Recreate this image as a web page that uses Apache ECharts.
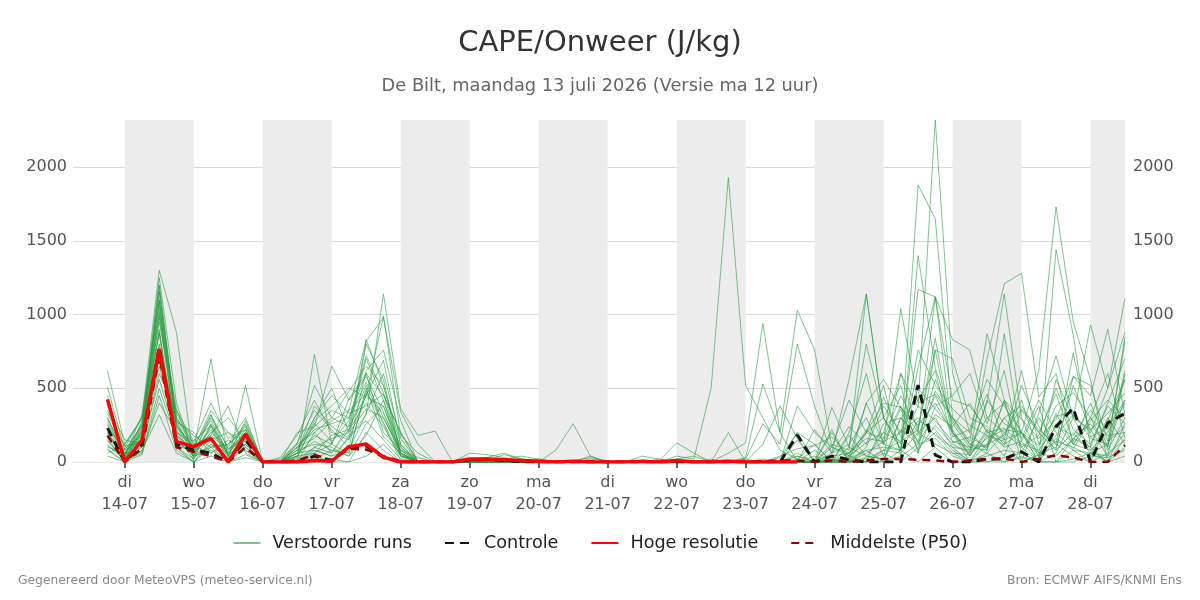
<!DOCTYPE html>
<html>
<head>
<meta charset="utf-8">
<title>CAPE/Onweer</title>
<script src="https://cdn.jsdelivr.net/npm/echarts@6/dist/echarts.min.js"></script>
<style>
html, body { margin: 0; padding: 0; background: #fff; }
#chart { width: 1200px; height: 600px; }
</style>
</head>
<body>
<div id="chart"></div>
<script>
// tijdstappen: elke 6 uur vanaf ma 13-07 18:00, as begint om 06:00
var startTime = new Date(2026, 6, 13, 18, 0, 0).getTime();
var asStart = new Date(2026, 6, 13, 6, 0, 0).getTime();
var stepCount = 60;
var dagNamen = ['zo', 'ma', 'di', 'wo', 'do', 'vr', 'za'];

// Hoge resolutie (stopt na ~10 dagen)
var hoogRes = [425, 0, 149, 766, 138, 104, 160, 0, 188, 0,
	0, 0, 10, 5, 104, 122, 33, 0, 0, 0,
	0, 20, 20, 15, 10, 5, 0, 5, 0, 0,
	0, 5, 0, 10, 0, 0, 5, 0, 0, 0, 0];

// Controle run
var controle = [230, 0, 120, 780, 120, 80, 60, 0, 150, 0,
	0, 0, 40, 10, 100, 110, 30, 0, 0, 0,
	0, 15, 20, 10, 0, 0, 0, 0, 0, 0,
	0, 0, 0, 0, 0, 0, 0, 0, 0, 0,
	183, 0, 40, 15, 0, 0, 0, 522, 47, 0,
	0, 20, 20, 70, 0, 240, 366, 0, 265, 330];

// Middelste (P50)
var mediaan = [180, 0, 90, 720, 100, 70, 40, 0, 100, 0,
	0, 10, 50, 10, 90, 85, 40, 5, 0, 0,
	0, 10, 15, 10, 5, 0, 5, 0, 5, 0,
	0, 0, 0, 5, 0, 0, 5, 0, 5, 10,
	10, 0, 10, 0, 10, 20, 20, 15, 10, 0,
	10, 20, 25, 0, 20, 45, 30, 0, 0, 115];

// Verstoorde runs
var leden = [
	[620,120,300,1300,880,0,120,60,180,0, 0,80,300,500,200,820,980,340,120,0, 0,0,10,50,20,10,0,10,30,0, 0,10,0,20,40,0,0,0,0,30, 200,0,120,80,1140,300,120,1880,1650,300, 120,60,200,360,220,120,40,0,280,560],
	[510,80,250,1150,300,120,280,50,220,0, 0,40,180,120,430,600,450,200,0,0, 0,0,0,20,15,0,10,0,0,0, 0,0,0,40,20,500,1930,520,300,80, 20,0,40,60,200,520,40,1400,640,260, 100,80,420,200,0,60,300,80,0,40],
	[420,30,180,1050,260,80,700,20,150,0, 0,0,80,40,160,320,1140,360,180,210, 0,0,0,0,10,20,0,0,0,0, 0,0,0,0,0,0,60,130,940,200, 0,0,60,120,300,40,600,370,2320,600, 200,80,870,140,380,0,160,260,100,850],
	[380,150,120,980,180,40,240,10,520,0, 20,120,520,300,240,450,990,180,60,0, 0,0,0,0,0,10,0,0,0,0, 0,0,0,10,0,0,0,30,530,200, 1030,760,100,40,400,120,80,1170,1120,200, 60,700,1210,1280,440,600,120,300,80,300],
	[300,60,200,1200,240,100,180,380,60,0, 0,100,240,650,420,580,340,40,0,0, 0,60,50,30,10,0,0,0,20,10, 0,0,0,0,0,10,0,20,260,120, 800,380,60,560,1140,300,80,640,1120,830, 760,300,200,100,0,1440,860,100,400,700],
	[250,40,160,900,120,60,300,100,260,0, 0,0,730,120,60,480,260,10,0,0, 0,0,20,20,40,20,0,10,0,0, 10,0,10,130,60,0,0,0,120,380, 160,0,370,100,800,300,520,60,760,700, 300,240,120,200,620,1730,950,560,0,260],
	[200,20,230,1100,300,90,350,200,100,0, 30,180,420,200,150,800,560,60,0,0, 10,0,0,0,0,0,80,260,40,0, 0,0,0,10,0,0,0,0,0,0, 200,120,0,200,600,120,1040,400,460,300, 140,870,420,0,330,720,300,930,500,1110],
	[150,0,280,800,270,200,60,120,240,0, 0,60,300,450,330,380,460,200,0,0, 0,0,0,0,0,0,0,0,0,0, 0,40,20,0,0,0,0,0,0,0, 0,0,200,0,400,560,370,250,400,200, 80,400,1140,300,30,180,320,200,500,880],
	[100,60,100,600,350,140,250,40,180,0, 0,200,240,350,300,600,200,80,0,0, 0,0,30,60,20,10,0,0,40,0, 0,0,0,0,0,0,200,0,0,0, 380,200,100,420,200,400,370,200,1120,420, 380,210,110,520,240,80,580,450,900,320],
	[450,20,200,1160,200,140,400,160,220,0, 0,0,100,60,250,700,420,100,0,0, 0,0,0,0,0,0,0,0,0,0, 0,0,0,0,0,0,0,0,0,0, 40,0,0,60,200,160,450,230,760,170, 220,560,380,200,0,560,300,220,40,600],
	[330,100,300,1000,360,50,200,300,150,0, 0,100,160,280,350,460,330,80,30,0, 0,0,0,20,10,0,0,0,0,0, 0,10,0,0,0,0,0,0,0,0, 0,220,60,240,120,440,170,60,380,450, 600,260,620,60,300,120,740,170,230,420],
	[280,40,240,720,100,20,250,50,120,0, 0,40,60,180,220,520,270,40,10,0, 0,0,10,0,0,0,0,0,0,0, 0,0,20,0,0,0,0,0,0,40, 90,110,170,40,130,200,600,200,120,60, 50,420,260,200,110,310,340,160,120,820],
	[180,80,150,650,220,30,120,10,160,0, 0,60,80,40,80,330,600,160,0,0, 0,0,0,0,0,0,0,0,0,0, 0,0,0,0,0,20,0,0,0,0, 0,0,0,20,80,0,300,420,620,130, 170,100,420,290,160,290,580,520,140,240],
	[120,10,60,500,160,20,180,80,200,0, 0,0,40,0,180,280,150,20,0,0, 0,0,0,0,0,0,0,0,0,0, 0,0,0,0,0,0,0,0,0,0, 0,0,0,100,40,20,300,180,450,200, 40,220,150,200,60,100,520,220,330,470],
	[90,0,220,1250,400,50,100,120,300,0, 0,0,200,300,480,650,520,120,0,0, 0,0,0,0,0,0,0,0,0,0, 0,0,0,0,0,0,0,0,20,0, 20,120,0,30,220,120,360,80,250,120, 60,160,220,200,40,330,120,300,180,200],
	[60,120,300,870,100,0,150,20,80,0, 0,80,120,100,40,260,380,50,0,0, 0,0,0,0,0,0,0,0,0,0, 0,0,0,0,0,0,0,0,0,0, 0,0,20,0,80,100,80,280,220,80, 10,40,80,60,0,160,80,0,60,150],
	[40,0,80,320,60,0,40,0,30,0, 0,0,0,20,0,40,120,0,0,0, 0,0,0,0,0,0,0,0,0,0, 0,0,0,0,0,0,0,0,0,0, 0,0,0,0,0,0,40,120,160,40, 0,0,30,60,0,0,0,40,30,80],
	[170,30,180,1100,250,100,320,40,280,0, 0,0,60,120,350,830,520,60,0,0, 0,0,0,0,0,0,0,0,0,0, 0,0,0,0,0,0,0,0,0,0, 150,0,220,0,200,300,90,760,520,360, 250,180,40,350,200,80,200,60,120,420],
	[220,50,250,950,330,120,150,200,140,0, 0,130,350,220,100,620,760,280,0,0, 0,0,0,0,0,0,0,0,0,0, 0,0,0,0,0,0,0,0,0,0, 40,0,0,0,60,140,380,130,320,240, 400,200,230,120,80,240,180,350,220,560],
	[80,0,50,450,80,0,100,0,50,0, 0,0,0,0,0,200,80,0,0,0, 0,0,0,0,0,0,0,0,0,0, 0,0,0,0,0,0,0,0,0,0, 0,0,0,0,0,60,0,100,200,60, 0,0,0,30,0,0,20,60,0,100],
	[260,60,260,1200,280,180,100,120,220,0, 0,120,200,60,220,400,240,40,0,0, 0,0,0,0,0,0,0,0,0,0, 0,0,0,0,0,0,0,0,0,0, 0,40,0,180,40,20,220,120,480,300, 200,460,150,620,120,380,470,300,600,160],
	[350,110,130,780,240,60,200,90,170,0, 0,30,280,380,500,440,380,100,0,0, 0,0,0,0,0,0,0,0,0,0, 0,0,0,0,0,0,0,20,0,0, 0,0,20,0,100,380,200,300,180,100, 80,120,300,160,420,200,90,280,420,300],
	[140,20,100,560,180,80,220,30,100,0, 0,60,140,80,60,500,170,60,0,0, 0,0,0,0,0,0,0,0,0,0, 0,0,0,0,0,0,0,0,0,0, 0,0,0,0,20,80,140,380,280,140, 100,300,400,100,180,500,220,120,380,260],
	[200,40,320,1080,150,40,260,60,200,0, 0,100,220,260,300,540,300,60,0,0, 0,0,0,0,0,0,0,0,0,0, 0,0,0,0,0,0,0,0,0,0, 0,80,0,0,30,200,140,220,840,200, 0,120,180,420,60,140,100,40,300,120],
	[110,30,70,400,200,110,60,150,80,0, 0,20,100,160,200,360,300,80,0,0, 0,0,0,0,0,0,0,0,0,0, 0,0,0,0,0,0,0,0,0,0, 0,0,0,0,0,0,80,0,100,0, 0,60,0,40,0,0,80,60,40,200],
	[300,50,210,880,120,80,150,70,250,0, 0,60,380,240,160,450,690,120,0,0, 0,0,0,0,0,0,0,0,0,0, 0,0,0,0,0,0,0,0,0,0, 60,0,100,60,160,140,200,500,360,220, 40,200,100,140,0,260,120,80,200,400],
	[160,0,140,700,280,40,80,20,120,0, 0,0,20,80,40,180,420,40,0,0, 0,0,0,0,0,0,0,0,0,0, 0,0,0,0,0,0,0,0,0,0, 0,0,0,0,0,80,60,200,300,100, 0,180,140,0,50,40,160,100,0,160],
	[230,90,180,1020,190,60,320,90,160,0, 0,40,260,140,280,720,470,60,0,0, 0,0,0,0,0,0,0,0,0,0, 0,0,0,0,0,0,0,0,0,0, 0,0,0,40,0,260,300,140,560,280, 120,100,300,380,200,460,140,400,100,620]
];

// grijze banden (om de dag)
var banden = [
	[new Date(2026, 6, 14), new Date(2026, 6, 15)],
	[new Date(2026, 6, 16), new Date(2026, 6, 17)],
	[new Date(2026, 6, 18), new Date(2026, 6, 19)],
	[new Date(2026, 6, 20), new Date(2026, 6, 21)],
	[new Date(2026, 6, 22), new Date(2026, 6, 23)],
	[new Date(2026, 6, 24), new Date(2026, 6, 25)],
	[new Date(2026, 6, 26), new Date(2026, 6, 27)],
	[new Date(2026, 6, 28), new Date(2026, 6, 28, 12)]
];

var yTicks = [0, 500, 1000, 1500, 2000];
var yMax = 2320;

function tijd(i){
	return startTime + i * 6 * 3600 * 1000;
}
function koppel(values){
	var out = [];
	for (var i = 0; i < values.length; i++) {
		out.push([tijd(i), values[i]]);
	}
	return out;
}

var chart = echarts.init(document.getElementById('chart'));
var font = 'DejaVu Sans';

var series = [];
// achtergrond banden
series.push({
	name: 'banden',
	type: 'line',
	data: [],
	silent: true,
	z: 0,
	markArea: {
		silent: true,
		itemStyle: { color: '#ececec' },
		data: banden.map(function(b){ return [{ xAxis: b[0].getTime() }, { xAxis: b[1].getTime() }]; })
	}
});
leden.forEach(function(lid){
	series.push({
		name: 'Verstoorde runs',
		type: 'line',
		data: koppel(lid),
		symbol: 'none',
		z: 2,
		color: '#2c9c45',
		lineStyle: { width: 1, color: '#2c9c45', opacity: 0.6 }
	});
});
series.push({
	name: 'Controle',
	type: 'line',
	data: koppel(controle),
	symbol: 'none',
	z: 3,
	color: '#151515',
	lineStyle: { width: 3, color: '#151515', type: [9, 6] }
});
series.push({
	name: 'Middelste (P50)',
	type: 'line',
	data: koppel(mediaan),
	symbol: 'none',
	z: 4,
	color: '#8b0000',
	lineStyle: { width: 2.5, color: '#8b0000', type: [8, 6] }
});
series.push({
	name: 'Hoge resolutie',
	type: 'line',
	data: koppel(hoogRes),
	symbol: 'none',
	z: 5,
	color: '#ff0000',
	lineStyle: { width: 3.5, color: '#ff0000' }
});

var yAs = {
	type: 'value',
	min: 0,
	max: yMax,
	interval: 500,
	axisLine: { show: false },
	axisTick: { show: false },
	axisLabel: {
		color: '#555',
		fontSize: 16,
		fontFamily: font,
		showMaxLabel: false,
		formatter: function(v){ return yTicks.indexOf(v) >= 0 ? v : ''; }
	},
	splitLine: { show: false }
};

var option = {
	animation: false,
	backgroundColor: '#fff',
	title: [
		{ text: 'CAPE/Onweer (J/kg)', left: 'center', top: 24,
			textStyle: { fontFamily: font, fontSize: 29, fontWeight: 'normal', color: '#333' } },
		{ text: 'De Bilt, maandag 13 juli 2026 (Versie ma 12 uur)', left: 'center', top: 72,
			textStyle: { fontFamily: font, fontSize: 17.8, fontWeight: 'normal', color: '#666' } },
		{ text: 'Gegenereerd door MeteoVPS (meteo-service.nl)', left: 13, top: 570,
			textStyle: { fontFamily: font, fontSize: 12.3, fontWeight: 'normal', color: '#888' } },
		{ text: 'Bron: ECMWF AIFS/KNMI Ens', right: 13, top: 570,
			textStyle: { fontFamily: font, fontSize: 12.3, fontWeight: 'normal', color: '#888' } }
	],
	legend: {
		data: ['Verstoorde runs', 'Controle', 'Hoge resolutie', 'Middelste (P50)'],
		top: 529,
		left: 'center',
		itemWidth: 27,
		itemHeight: 12,
		itemGap: 32,
		itemStyle: { opacity: 0 },
		textStyle: { fontFamily: font, fontSize: 17.6, color: '#222', padding: [0, 0, 0, 7] }
	},
	grid: { left: 73, right: 75, top: 120, bottom: 138, containLabel: false },
	xAxis: {
		type: 'time',
		min: asStart,
		max: tijd(stepCount - 1),
		minInterval: 24 * 3600 * 1000,
		maxInterval: 24 * 3600 * 1000,
		axisLine: { show: true, lineStyle: { color: '#e6e6e6' } },
		axisTick: { show: true, length: 6, lineStyle: { color: '#666', width: 2 } },
		splitLine: { show: false },
		axisLabel: {
			color: '#555',
			fontSize: 16,
			fontFamily: font,
			lineHeight: 22,
			margin: 10,
			hideOverlap: false,
			formatter: function(v){
				var d = new Date(v);
				var dd = ('0' + d.getDate()).slice(-2);
				var mm = ('0' + (d.getMonth() + 1)).slice(-2);
				return dagNamen[d.getDay()] + '\n' + dd + '-' + mm;
			}
		}
	},
	yAxis: [
		echarts.util.merge({
			splitLine: { show: true, lineStyle: { color: ['#eeeeee', '#d9d9d9', '#d9d9d9', '#d9d9d9', '#d9d9d9', 'rgba(0,0,0,0)'], width: 1 } },
			axisLabel: { margin: 6 }
		}, yAs, false),
		echarts.util.merge({}, yAs, false)
	],
	series: series
};
chart.setOption(option);
</script>
</body>
</html>
